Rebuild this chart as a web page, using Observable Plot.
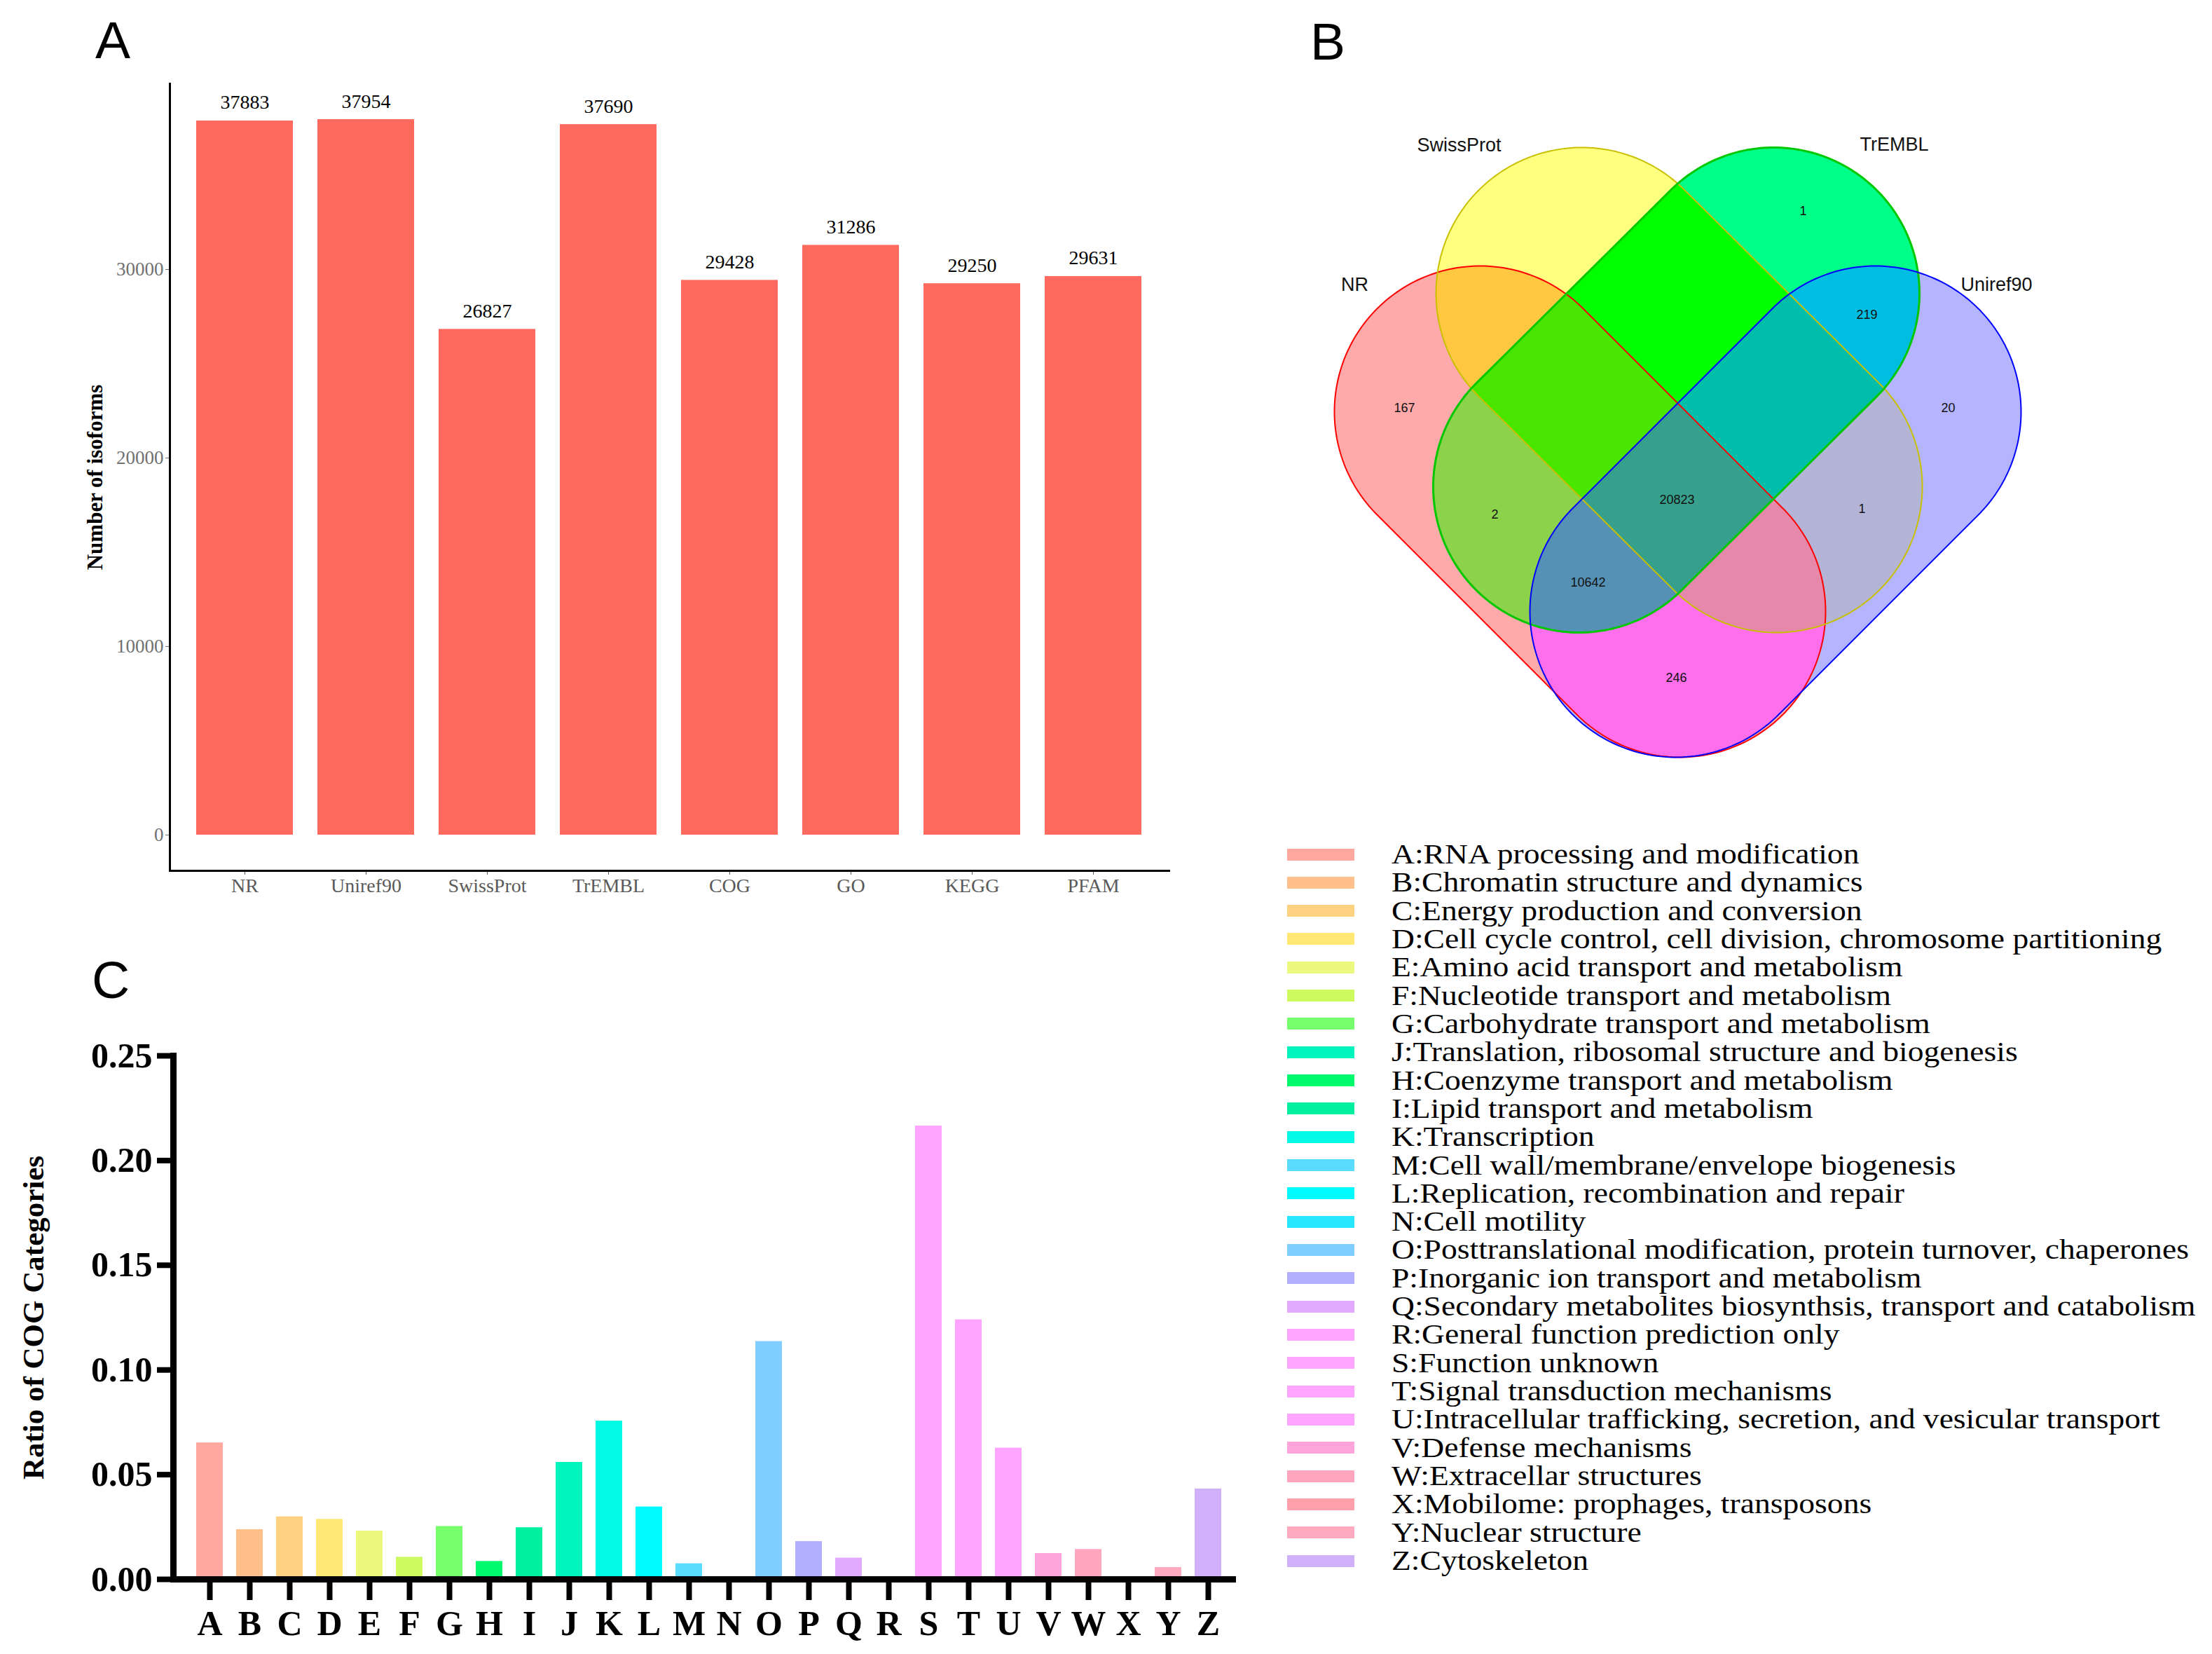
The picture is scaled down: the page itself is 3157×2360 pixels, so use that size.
<!DOCTYPE html>
<html>
<head>
<meta charset="utf-8">
<script src="https://cdn.jsdelivr.net/npm/d3@7"></script>
<script src="https://cdn.jsdelivr.net/npm/@observablehq/plot@0.6"></script>
<style>
  html, body { margin: 0; padding: 0; background: #fff; }
  #page { position: relative; width: 3157px; height: 2360px; overflow: hidden; background: #fff; }
  .panel { position: absolute; }
  .tag { position: absolute; font-family: "Liberation Sans", Arial, sans-serif; font-size: 75px; line-height: 75px; color: #000; }
  .legtext { position: absolute; left: 150px; top: 0; font-family: "Liberation Serif", "Times New Roman", serif; font-size: 40px; line-height: 40px; white-space: nowrap; color: #000; transform: scaleX(1.14); transform-origin: left center; }
  .swatch { position: absolute; left: 1px; top: 11.5px; width: 96px; height: 17px; }
</style>
</head>
<body>
<div id="page"></div>
<script>
// ---------------- DATA ----------------
// Panel A: annotated isoforms per database
const dbNames = ["NR", "Uniref90", "SwissProt", "TrEMBL", "COG", "GO", "KEGG", "PFAM"];
const dbCounts = [37883, 37954, 26827, 37690, 29428, 31286, 29250, 29631];
const yTicksA = [0, 10000, 20000, 30000];

// Panel B: Venn diagram
const vennSets = ["NR", "SwissProt", "TrEMBL", "Uniref90"];
const vennRegions = ["NR", "TrEMBL", "TrEMBL&Uniref90", "Uniref90", "NR&TrEMBL",
  "NR&SwissProt&TrEMBL&Uniref90", "SwissProt&Uniref90", "NR&TrEMBL&Uniref90", "NR&Uniref90"];
const vennCounts = [167, 1, 219, 20, 2, 20823, 1, 10642, 246];

// Panel C: COG categories
const cogLetters = "ABCDEFGHIJKLMNOPQRSTUVWXYZ".split("");
const cogRatios = [0.0652, 0.0238, 0.0299, 0.0287, 0.0231, 0.0106, 0.0253, 0.0086, 0.0247,
  0.0559, 0.0756, 0.0346, 0.0075, 0, 0.1136, 0.0181, 0.0102, 0, 0.2165, 0.1240, 0.0627,
  0.0124, 0.0143, 0, 0.0057, 0.0432];
const yTicksC = [0, 0.05, 0.10, 0.15, 0.20, 0.25];
const legendOrder = ["A","B","C","D","E","F","G","J","H","I","K","M","L","N","O","P","Q","R","S","T","U","V","W","X","Y","Z"];
const legendTexts = [
  "A:RNA processing and modification",
  "B:Chromatin structure and dynamics",
  "C:Energy production and conversion",
  "D:Cell cycle control, cell division, chromosome partitioning",
  "E:Amino acid transport and metabolism",
  "F:Nucleotide transport and metabolism",
  "G:Carbohydrate transport and metabolism",
  "J:Translation, ribosomal structure and biogenesis",
  "H:Coenzyme transport and metabolism",
  "I:Lipid transport and metabolism",
  "K:Transcription",
  "M:Cell wall/membrane/envelope biogenesis",
  "L:Replication, recombination and repair",
  "N:Cell motility",
  "O:Posttranslational modification, protein turnover, chaperones",
  "P:Inorganic ion transport and metabolism",
  "Q:Secondary metabolites biosynthsis, transport and catabolism",
  "R:General function prediction only",
  "S:Function unknown",
  "T:Signal transduction mechanisms",
  "U:Intracellular trafficking, secretion, and vesicular transport",
  "V:Defense mechanisms",
  "W:Extracellar structures",
  "X:Mobilome: prophages, transposons",
  "Y:Nuclear structure",
  "Z:Cytoskeleton"
];

// ---------------- STYLES ----------------
const barColorA = "#FF695E";
const cogColors = ["#FFA8A0","#FFC08C","#FFD282","#FFE873","#EBFA7D","#CDFA5F","#78FF6E","#00FA6E",
  "#00F0A0","#00F5BE","#00FAE6","#00FAFF","#5ADCFF","#28E6FF","#80CDFF","#B0B0FF","#E1AAFF",
  "#FFA5FF","#FFA5FF","#FFA5FF","#FFA5FF","#FFA5DC","#FFA5BE","#FFA0AA","#FFAABE","#D0B0F8"];
const vennRegionColors = [
  ["NR", "#FFAAAA"], ["SwissProt", "#FFFF80"], ["TrEMBL", "#00FF88"], ["Uniref90", "#B4B4FF"],
  ["NR&SwissProt", "#FFC840"], ["NR&TrEMBL", "#8CD24B"], ["NR&Uniref90", "#FF6EEB"],
  ["SwissProt&TrEMBL", "#00FF00"], ["SwissProt&Uniref90", "#B4B4D7"], ["TrEMBL&Uniref90", "#00BEE1"],
  ["NR&SwissProt&TrEMBL", "#48E600"], ["NR&SwissProt&Uniref90", "#E688AA"],
  ["NR&TrEMBL&Uniref90", "#5591B4"], ["SwissProt&TrEMBL&Uniref90", "#00BEAA"],
  ["NR&SwissProt&TrEMBL&Uniref90", "#37A08C"]
];
const vennStroke = {NR: "#FF0000", SwissProt: "#C8C000", TrEMBL: "#00C800", Uniref90: "#0000FF"};
const vennStrokeWidth = {NR: 2, SwissProt: 2, TrEMBL: 3, Uniref90: 2};

// Venn geometry (capsule shapes, in the diagram's own units)
const vennR = 208;
const vennShapes = {
  NR:        {a: [-282, -58],  b: [3, 227]},
  SwissProt: {a: [-137, -227], b: [141, 49]},
  TrEMBL:    {a: [137, -227],  b: [-141, 49]},
  Uniref90:  {a: [282, -58],   b: [-3, 227]}
};
const vennCountPos = [[-390,-63],[179,-344],[270,-196],[386,-63],[-261,89],[-1,68],[263,81],[-128,186],[-2,322]];
const vennSetLabelPos = [[-461,-239],[-312,-438],[309,-439],[455,-239]];

const serif = "'Liberation Serif', 'Times New Roman', serif";
const sans = "'Liberation Sans', Arial, sans-serif";

const page = document.getElementById("page");
function place(node, left, top) {
  const d = document.createElement("div");
  d.className = "panel";
  d.style.left = left + "px";
  d.style.top = top + "px";
  d.appendChild(node);
  page.appendChild(d);
}
function tag(text, left, top) {
  const d = document.createElement("div");
  d.className = "tag";
  d.textContent = text;
  d.style.left = left + "px";
  d.style.top = top + "px";
  page.appendChild(d);
}

// ---------------- PANEL A ----------------
const dataA = dbNames.map((name, i) => ({name, value: dbCounts[i]}));
const chartA = Plot.plot({
  width: 1700, height: 1300,
  marginLeft: 242, marginRight: 32, marginTop: 119, marginBottom: 58,
  style: {fontFamily: serif, fontSize: "28px", background: "transparent", overflow: "visible"},
  x: {type: "band", domain: dbNames, padding: 0.2, label: null},
  y: {domain: [-1898, 39852], label: null},
  marks: [
    Plot.barY(dataA, {x: "name", y: "value", fill: barColorA}),
    Plot.text(dataA, {x: "name", y: "value", text: d => String(d.value), dy: -26, fontSize: 28, fill: "#000"}),
    Plot.axisY({ticks: yTicksA, tickFormat: d => String(d), tickSize: 6, tickPadding: 3, fontSize: 27, color: "#707070", label: null}),
    Plot.axisX({tickSize: 6, tickPadding: 5, fontSize: 28, color: "#5a5a5a", label: null}),
    Plot.frame({anchor: "left", strokeWidth: 3, stroke: "#000"}),
    Plot.frame({anchor: "bottom", strokeWidth: 3, stroke: "#000"}),
    Plot.text(["Number of isoforms"], {frameAnchor: "left", textAnchor: "middle", text: d => d, dx: -106, rotate: -90, fontWeight: "bold", fontSize: 31, fill: "#000"})
  ]
});
place(chartA, 0, 0);

// ---------------- PANEL B ----------------
function segDist(px, py, a, b) {
  const dx = b[0] - a[0], dy = b[1] - a[1];
  let t = ((px - a[0]) * dx + (py - a[1]) * dy) / (dx * dx + dy * dy);
  t = Math.max(0, Math.min(1, t));
  return Math.hypot(a[0] + t * dx - px, a[1] + t * dy - py);
}
const regionColorByKey = new Map(vennRegionColors);
function regionKeyAt(x, y) {
  return vennSets.filter(s => segDist(x, y, vennShapes[s].a, vennShapes[s].b) <= vennR).join("&");
}
const outline = vennSets.flatMap(s => {
  const {a, b} = vennShapes[s];
  const phi = Math.atan2(b[1] - a[1], b[0] - a[0]);
  const pts = [];
  const N = 120;
  for (let k = 0; k <= N; ++k) {
    const th = phi - Math.PI / 2 + Math.PI * k / N;
    pts.push({set: s, x: b[0] + vennR * Math.cos(th), y: b[1] + vennR * Math.sin(th)});
  }
  for (let k = 0; k <= N; ++k) {
    const th = phi + Math.PI / 2 + Math.PI * k / N;
    pts.push({set: s, x: a[0] + vennR * Math.cos(th), y: a[1] + vennR * Math.sin(th)});
  }
  return pts;
});
const countData = vennCounts.map((c, i) => ({region: vennRegions[i], count: c, x: vennCountPos[i][0], y: vennCountPos[i][1]}));
const setLabelData = vennSets.map((s, i) => ({name: s, x: vennSetLabelPos[i][0], y: vennSetLabelPos[i][1]}));
const xB = [-514, 506], yB = [-495, 465];
const chartB = Plot.plot({
  width: 1020, height: 960, margin: 0,
  style: {fontFamily: sans, background: "transparent", overflow: "visible"},
  x: {domain: xB, axis: null},
  y: {domain: yB, reverse: true, axis: null},
  color: {type: "identity"},
  marks: [
    Plot.raster({fill: (x, y) => regionColorByKey.get(regionKeyAt(x, y)) ?? "#ffffff",
      x1: xB[0], x2: xB[1], y1: yB[0], y2: yB[1], pixelSize: 1}),
    ...vennSets.map(s => Plot.line(outline.filter(d => d.set === s), {x: "x", y: "y", stroke: vennStroke[s], strokeWidth: vennStrokeWidth[s], curve: "linear-closed"})),
    Plot.text(countData, {x: "x", y: "y", text: d => String(d.count), fontSize: 18, fill: "#111"}),
    Plot.text(setLabelData, {x: "x", y: "y", text: "name", fontSize: 27, fill: "#111"})
  ]
});
place(chartB, 1880, 150);

// ---------------- PANEL C ----------------
const dataC = cogLetters.map((letter, i) => ({letter, ratio: cogRatios[i]}));
const chartC = Plot.plot({
  width: 1800, height: 910,
  marginLeft: 247, marginRight: 36, marginTop: 56, marginBottom: 107,
  style: {fontFamily: serif, background: "transparent", overflow: "visible"},
  x: {type: "band", domain: cogLetters, paddingInner: 0.34, paddingOuter: 0.33, align: 0.6, label: null},
  y: {domain: [0, 0.25], label: null},
  color: {type: "ordinal", domain: cogLetters, range: cogColors},
  marks: [
    Plot.barY(dataC, {x: "letter", y: "ratio", fill: "letter"}),
    Plot.axisY({ticks: yTicksC, tickFormat: d3.format(".2f"), tickSize: 23, tickPadding: 7, strokeWidth: 8, fontSize: 50, fontWeight: "bold", label: null}),
    Plot.axisX({tickSize: 30, tickPadding: 14, strokeWidth: 8, fontSize: 50, fontWeight: "bold", label: null}),
    Plot.ruleY([0], {strokeWidth: 9}),
    Plot.frame({anchor: "left", strokeWidth: 9, stroke: "#000"}),
    Plot.text(["Ratio of COG Categories"], {frameAnchor: "left", textAnchor: "middle", text: d => d, dx: -199, rotate: -90, fontWeight: "bold", fontSize: 43, fill: "#000"})
  ]
});
place(chartC, 0, 1450);

// Legend for panel C
const colorOf = new Map(cogLetters.map((l, i) => [l, cogColors[i]]));
const leg = document.createElement("div");
leg.style.cssText = "position:absolute;left:1836px;top:1199px;width:1320px;height:1060px;";
legendOrder.forEach((k, i) => {
  const row = document.createElement("div");
  row.style.cssText = `position:absolute;left:0;top:${(i * 40.32).toFixed(2)}px;height:40px;width:1320px;`;
  const sw = document.createElement("div");
  sw.className = "swatch";
  sw.style.background = colorOf.get(k);
  const tx = document.createElement("div");
  tx.className = "legtext";
  tx.textContent = legendTexts[i];
  row.appendChild(sw);
  row.appendChild(tx);
  leg.appendChild(row);
});
page.appendChild(leg);

// Panel tags
tag("A", 136, 20);
tag("B", 1870, 22);
tag("C", 131, 1361);
</script>
</body>
</html>
